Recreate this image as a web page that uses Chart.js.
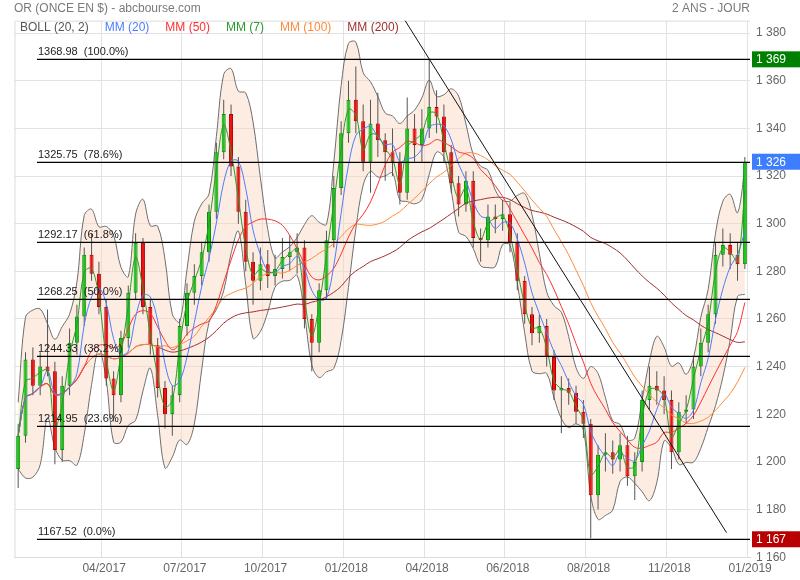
<!DOCTYPE html>
<html>
<head>
<meta charset="utf-8">
<script src="https://cdn.jsdelivr.net/npm/chart.js@4.4.1/dist/chart.umd.min.js"></script>
<style>
  html, body { margin: 0; padding: 0; background: #fff; }
  #wrap { width: 800px; height: 580px; }
</style>
</head>
<body>
<div id="wrap"><canvas id="chart" width="800" height="580"></canvas></div>
<script>
const DAYS_PER_CANDLE = 5;

const opens = [1197, 1211, 1243, 1232, 1240, 1238, 1205, 1232, 1250, 1261,
    1287, 1279, 1265, 1235, 1228, 1252, 1271, 1292, 1265, 1249,
    1231, 1220, 1228, 1257, 1271, 1278, 1288, 1305, 1330, 1346,
    1324, 1305, 1284, 1276, 1283, 1278, 1281, 1286, 1288, 1290,
    1260, 1250, 1272, 1293, 1315, 1338, 1352, 1343, 1326, 1342,
    1335, 1330, 1326, 1313, 1340, 1333, 1340, 1349, 1345, 1330,
    1317, 1308, 1318, 1294, 1293, 1303, 1302, 1304, 1292, 1276,
    1262, 1254, 1257, 1244, 1230, 1231, 1229, 1221, 1216, 1186,
    1203, 1204, 1201, 1207, 1194, 1200, 1226, 1232, 1230, 1226,
    1204, 1221, 1222, 1240, 1250, 1262, 1287, 1291, 1287, 1283];
const highs = [1216, 1246, 1248, 1246, 1264, 1242, 1236, 1256, 1266, 1290,
    1296, 1284, 1268, 1238, 1255, 1274, 1296, 1294, 1268, 1252,
    1234, 1232, 1260, 1275, 1283, 1292, 1308, 1334, 1352, 1350,
    1328, 1310, 1288, 1290, 1289, 1287, 1294, 1295, 1296, 1293,
    1262, 1275, 1297, 1320, 1343, 1360, 1366, 1350, 1352, 1355,
    1338, 1340, 1330, 1353, 1346, 1348, 1369, 1356, 1350, 1333,
    1320, 1322, 1322, 1298, 1308, 1308, 1310, 1309, 1296, 1278,
    1265, 1262, 1260, 1247, 1236, 1235, 1232, 1226, 1218, 1207,
    1212, 1209, 1212, 1211, 1204, 1230, 1240, 1238, 1236, 1230,
    1225, 1228, 1244, 1256, 1266, 1292, 1298, 1296, 1292, 1328];
const lows = [1189, 1208, 1228, 1228, 1236, 1199, 1200, 1228, 1245, 1257,
    1276, 1262, 1232, 1217, 1225, 1248, 1268, 1262, 1245, 1227,
    1214, 1211, 1225, 1253, 1266, 1274, 1284, 1302, 1327, 1320,
    1300, 1280, 1266, 1272, 1273, 1274, 1277, 1280, 1279, 1256,
    1238, 1246, 1268, 1290, 1312, 1334, 1338, 1322, 1313, 1328,
    1318, 1320, 1308, 1310, 1326, 1326, 1336, 1338, 1326, 1313,
    1303, 1305, 1290, 1284, 1290, 1296, 1297, 1288, 1272, 1258,
    1249, 1250, 1240, 1226, 1212, 1224, 1216, 1210, 1168, 1180,
    1196, 1195, 1196, 1190, 1184, 1196, 1222, 1224, 1220, 1197,
    1201, 1216, 1218, 1236, 1246, 1258, 1282, 1281, 1276, 1281];
const closes = [1211, 1243, 1232, 1240, 1238, 1205, 1232, 1250, 1261, 1287,
    1279, 1265, 1235, 1228, 1252, 1271, 1292, 1265, 1249, 1231,
    1220, 1228, 1257, 1271, 1278, 1288, 1305, 1330, 1346, 1324,
    1305, 1284, 1276, 1283, 1278, 1281, 1286, 1288, 1290, 1260,
    1250, 1272, 1293, 1315, 1338, 1352, 1343, 1326, 1342, 1335,
    1330, 1326, 1313, 1340, 1333, 1340, 1349, 1345, 1330, 1317,
    1308, 1318, 1294, 1293, 1303, 1302, 1304, 1292, 1276, 1262,
    1254, 1257, 1244, 1230, 1231, 1229, 1221, 1216, 1186, 1203,
    1204, 1201, 1207, 1194, 1200, 1226, 1232, 1230, 1226, 1204,
    1221, 1222, 1240, 1250, 1262, 1287, 1291, 1287, 1283, 1326];

// x axis in trading days since the first session
const X_MAX_DAY = 501;
const xTickDays = [59, 114, 169, 224, 279, 334, 389, 444, 499];
const xTickLabels = ['04/2017', '07/2017', '10/2017', '01/2018', '04/2018', '06/2018', '08/2018', '11/2018', '01/2019'];
const yTicks = [1160, 1180, 1200, 1220, 1240, 1260, 1280, 1300, 1320, 1340, 1360, 1380];

// Fibonacci retracement
const fibLevels = [1368.98, 1325.75, 1292.17, 1268.25, 1244.33, 1214.95, 1167.52];
const fibPercents = ['100.0', '78.6', '61.8', '50.0', '38.2', '23.6', '0.0'];
const FIB_START_DAY = 15.3;

// falling trend line (day, price)
const trendDays = [265, 485];
const trendPrices = [1386.3, 1170.3];

// value tags on the right axis
const tagValues = [1368.98, 1326, 1167.52];
const tagLabels = ['1 369', '1 326', '1 167'];
const tagColors = ['#008000', '#3d7eff', '#b80000'];

const legendItems = ['BOLL (20, 2)', 'MM (20)', 'MM (50)', 'MM (7)', 'MM (100)', 'MM (200)'];
const legendColors = ['#555555', '#4a7dff', '#ff3030', '#2a9a2a', '#ff8a3a', '#a03030'];

function dayOf(i) {
    return DAYS_PER_CANDLE * i + DAYS_PER_CANDLE / 2;
}

function fmt(v) {
    return String(Math.round(v)).replace(/\B(?=(\d{3})+(?!\d))/g, ' ');
}

// moving average over a number of days, using the candles available so far
function movingAverage(values, days) {
    const span = days / DAYS_PER_CANDLE;
    return values.map(function (_, i) {
        let sum = 0, wsum = 0;
        for (let k = 0; k < Math.ceil(span) && i - k >= 0; k++) {
            const w = Math.min(1, span - k);
            sum += values[i - k] * w;
            wsum += w;
        }
        return sum / wsum;
    });
}

const mm7 = movingAverage(closes, 7);
const mm20 = movingAverage(closes, 20);
const mm50 = movingAverage(closes, 50);
const mm100 = movingAverage(closes, 100);
const mm200 = movingAverage(closes, 200);

const bollUp = [], bollDown = [];
closes.forEach(function (_, i) {
    const n = 20 / DAYS_PER_CANDLE;
    const vals = [];
    for (let j = Math.max(0, i - n + 1); j <= i; j++) {
        vals.push(opens[j], closes[j]);
    }
    const mean = vals.reduce((a, b) => a + b, 0) / vals.length;
    const sd = Math.sqrt(vals.reduce((a, b) => a + (b - mean) * (b - mean), 0) / vals.length);
    bollUp.push(mm20[i] + 2 * sd);
    bollDown.push(mm20[i] - 2 * sd);
});

function points(arr) {
    return arr.map((v, i) => ({ x: dayOf(i), y: v }));
}

function maLine(label, arr, color, order) {
    return {
        type: 'line', label: label, data: points(arr),
        borderColor: color, borderWidth: 1, pointRadius: 0,
        tension: 0.35, fill: false, order: order
    };
}

const upColor = '#16c816', downColor = '#ee1111';
const isUp = i => closes[i] >= opens[i];

const datasets = [
    {
        type: 'line', label: 'boll-up', data: points(bollUp),
        borderColor: '#6e6e6e', borderWidth: 1, pointRadius: 0, tension: 0.35,
        fill: '+1', backgroundColor: 'rgba(250, 212, 188, 0.45)', order: 20
    },
    {
        type: 'line', label: 'boll-down', data: points(bollDown),
        borderColor: '#6e6e6e', borderWidth: 1, pointRadius: 0, tension: 0.35,
        fill: false, order: 19
    },
    {
        type: 'bar', label: 'wicks',
        data: lows.map((l, i) => ({ x: dayOf(i), y: [l, highs[i]] })),
        backgroundColor: '#555555', maxBarThickness: 1, grouped: false, order: 15
    },
    {
        type: 'bar', label: 'bodies',
        data: opens.map((o, i) => ({ x: dayOf(i), y: [o, closes[i]] })),
        backgroundColor: ctx => isUp(ctx.dataIndex) ? upColor : downColor,
        borderColor: ctx => isUp(ctx.dataIndex) ? '#0a8a0a' : '#b00000',
        borderWidth: 1, borderSkipped: false, minBarLength: 1,
        maxBarThickness: 4, grouped: false, order: 14
    },
    maLine('MM (200)', mm200, legendColors[5], 10),
    maLine('MM (100)', mm100, legendColors[4], 9),
    maLine('MM (50)', mm50, legendColors[2], 8),
    maLine('MM (20)', mm20, legendColors[1], 7),
    maLine('MM (7)', mm7, legendColors[3], 6)
];

fibLevels.forEach(function (lvl) {
    datasets.push({
        type: 'line', label: 'fib', data: [{ x: FIB_START_DAY, y: lvl }, { x: X_MAX_DAY, y: lvl }],
        borderColor: '#000', borderWidth: 1.2, pointRadius: 0, fill: false, order: 1
    });
});

datasets.push({
    type: 'line', label: 'trend',
    data: trendDays.map((d, i) => ({ x: d, y: trendPrices[i] })),
    borderColor: '#111', borderWidth: 1, pointRadius: 0, fill: false, order: 0
});

const FONT = "'Liberation Sans', Arial, sans-serif";

const decorPlugin = {
    id: 'decor',
    beforeDatasetsDraw(chart) {
        const { ctx, chartArea: a } = chart;
        ctx.save();
        ctx.strokeStyle = '#dcdcdc';
        ctx.lineWidth = 1;
        ctx.beginPath();
        ctx.moveTo(a.left + 0.5, a.bottom);
        ctx.lineTo(a.left + 0.5, a.top + 0.5);
        ctx.lineTo(a.right, a.top + 0.5);
        ctx.stroke();
        ctx.restore();
    },
    afterDraw(chart) {
        const { ctx, chartArea: a, scales } = chart;
        const y = scales.y, x = scales.x;
        ctx.save();
        // title
        ctx.font = '12px ' + FONT;
        ctx.fillStyle = '#7a7a7a';
        ctx.textBaseline = 'middle';
        ctx.textAlign = 'left';
        ctx.fillText('OR (ONCE EN $) - abcbourse.com', 14, 9);
        ctx.textAlign = 'right';
        ctx.fillText('2 ANS - JOUR', a.right, 9);

        // indicator legend inside the plot
        ctx.textAlign = 'left';
        let lx = a.left + 5.5;
        legendItems.forEach(function (txt, i) {
            ctx.fillStyle = legendColors[i];
            ctx.fillText(txt, lx, a.top + 6.8);
            lx += ctx.measureText(txt).width + 16;
        });

        // fibonacci labels
        ctx.font = '11px ' + FONT;
        ctx.fillStyle = '#222';
        ctx.textBaseline = 'bottom';
        fibLevels.forEach(function (lvl, i) {
            ctx.fillText(lvl.toFixed(2) + '  (' + fibPercents[i] + '%)', x.getPixelForValue(FIB_START_DAY) + 1, y.getPixelForValue(lvl) - 1.5);
        });

        // value tags
        ctx.font = '12px ' + FONT;
        ctx.textBaseline = 'middle';
        tagValues.forEach(function (v, i) {
            const py = y.getPixelForValue(v);
            ctx.fillStyle = tagColors[i];
            ctx.fillRect(a.right + 2, py - 8, chart.width - a.right - 2, 16);
            ctx.fillStyle = '#fff';
            ctx.fillText(tagLabels[i], a.right + 6, py + 0.5);
        });
        ctx.restore();
    }
};

new Chart(document.getElementById('chart'), {
    type: 'bar',
    data: { datasets: datasets },
    options: {
        responsive: false,
        animation: false,
        events: [],
        layout: { padding: { top: 20.7, left: 14.5, right: 0, bottom: 0 } },
        plugins: {
            legend: { display: false },
            tooltip: { enabled: false },
            title: { display: false }
        },
        scales: {
            x: {
                type: 'linear', min: 0, max: X_MAX_DAY, offset: false,
                grid: { color: '#e2e2e2', drawTicks: false, offset: false },
                border: { display: true, color: '#dcdcdc' },
                afterBuildTicks: s => { s.ticks = xTickDays.map(v => ({ value: v })); },
                afterFit: s => { s.height = 22.5; },
                ticks: {
                    autoSkip: false, maxRotation: 0, padding: 4, labelOffset: 3,
                    color: '#666', font: { family: FONT, size: 12 },
                    callback: (v, i) => xTickLabels[i]
                }
            },
            y: {
                type: 'linear', position: 'right', min: 1159.87, max: 1385.2, beginAtZero: false,
                grid: { color: '#e2e2e2', drawTicks: false },
                border: { display: false },
                afterBuildTicks: s => { s.ticks = yTicks.map(v => ({ value: v })); },
                afterFit: s => { s.width = 50; },
                ticks: {
                    padding: 6, color: '#666', font: { family: FONT, size: 12 },
                    callback: v => fmt(v)
                }
            }
        }
    },
    plugins: [decorPlugin]
});
</script>
</body>
</html>
